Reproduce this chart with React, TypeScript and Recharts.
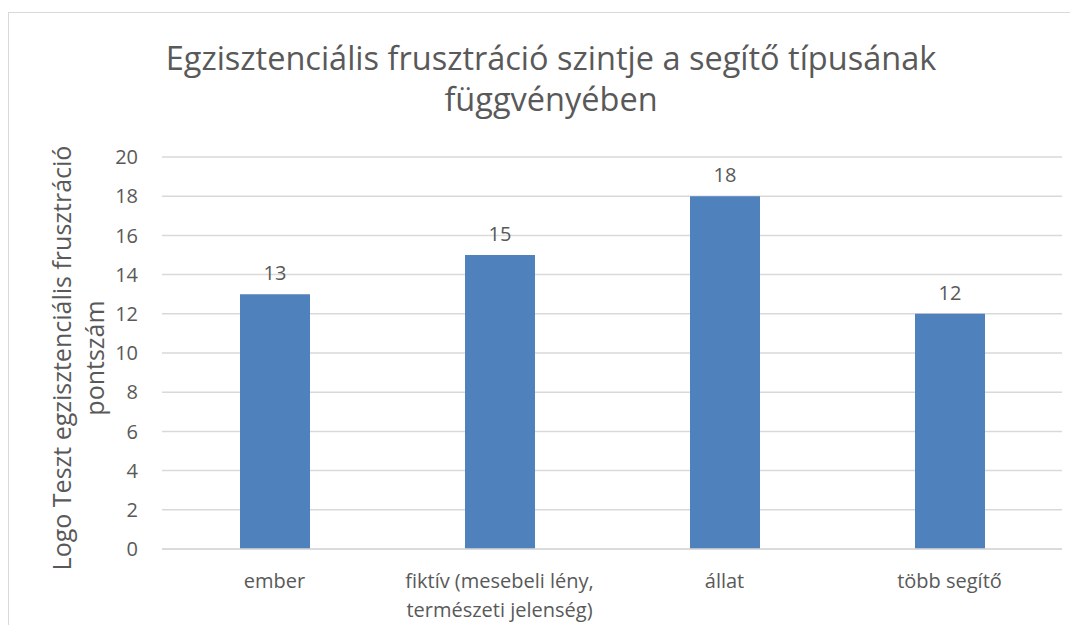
import { Bar, BarChart, CartesianGrid, LabelList, XAxis, YAxis } from "recharts";

const categories = [
  "ember",
  "fiktív (mesebeli lény, természeti jelenség)",
  "állat",
  "több segítő",
];
const scores = [13, 15, 18, 12];
const yTicks = [0, 2, 4, 6, 8, 10, 12, 14, 16, 18, 20];

const chartData = categories.map((name, i) => ({ name, value: scores[i] }));

const FONT = "'Open Sans', 'Noto Sans', sans-serif";
const TEXT = "#595959";

function CategoryTick({ x, y, payload }: any) {
  const label: string = payload.value;
  const cut = label.indexOf(", ");
  const lines = cut >= 0 ? [label.slice(0, cut + 1), label.slice(cut + 2)] : [label];
  return (
    <text x={x} y={y} textAnchor="middle" fill={TEXT} fontSize={20} fontFamily={FONT}>
      {lines.map((line, i) => (
        <tspan key={i} x={x} y={y + 39 + i * 29}>
          {line}
        </tspan>
      ))}
    </text>
  );
}

function AxisTitle() {
  return (
    <text
      transform="translate(71, 358) rotate(-90)"
      textAnchor="middle"
      fill={TEXT}
      fontSize={25}
      fontFamily={FONT}
    >
      <tspan x={0} y={0}>Logo Teszt egzisztenciális frusztráció</tspan>
      <tspan x={0} y={33}>pontszám</tspan>
    </text>
  );
}

export default function App() {
  return (
    <div
      style={{
        position: "relative",
        width: 1078,
        height: 633,
        margin: -8,
        overflow: "hidden",
        background: "#fff",
        fontFamily: FONT,
      }}
    >
      <div
        style={{
          position: "absolute",
          left: 8,
          top: 12,
          width: 1100,
          height: 700,
          border: "1px solid #d9d9d9",
        }}
      />
      <div
        style={{
          position: "absolute",
          left: 8,
          top: 37,
          width: 1086,
          textAlign: "center",
          fontSize: 32.5,
          lineHeight: "41px",
          color: TEXT,
        }}
      >
        Egzisztenciális frusztráció szintje a segítő típusának
        <br />
        függvényében
      </div>
      <BarChart
        width={1078}
        height={633}
        data={chartData}
        margin={{ top: 157, right: 16, bottom: 44, left: 102 }}
        style={{ position: "absolute", left: 0, top: 0 }}
      >
        <CartesianGrid vertical={false} stroke="#d9d9d9" strokeWidth={1.5} />
        <XAxis
          dataKey="name"
          height={40}
          tickSize={0}
          tickMargin={0}
          axisLine={{ stroke: "#d9d9d9", strokeWidth: 1.5 }}
          tickLine={false}
          interval={0}
          tick={<CategoryTick />}
        />
        <YAxis
          width={60}
          domain={[0, 20]}
          ticks={yTicks}
          tickSize={0}
          tickMargin={24}
          axisLine={false}
          tickLine={false}
          tick={{ fill: TEXT, fontSize: 20, fontFamily: FONT }}
          label={{ content: () => <AxisTitle /> }}
        />
        <Bar dataKey="value" fill="#4f81bd" barSize={70} isAnimationActive={false}>
          <LabelList
            dataKey="value"
            position="top"
            offset={14}
            fill={TEXT}
            fontSize={20}
            fontFamily={FONT}
          />
        </Bar>
      </BarChart>
    </div>
  );
}
